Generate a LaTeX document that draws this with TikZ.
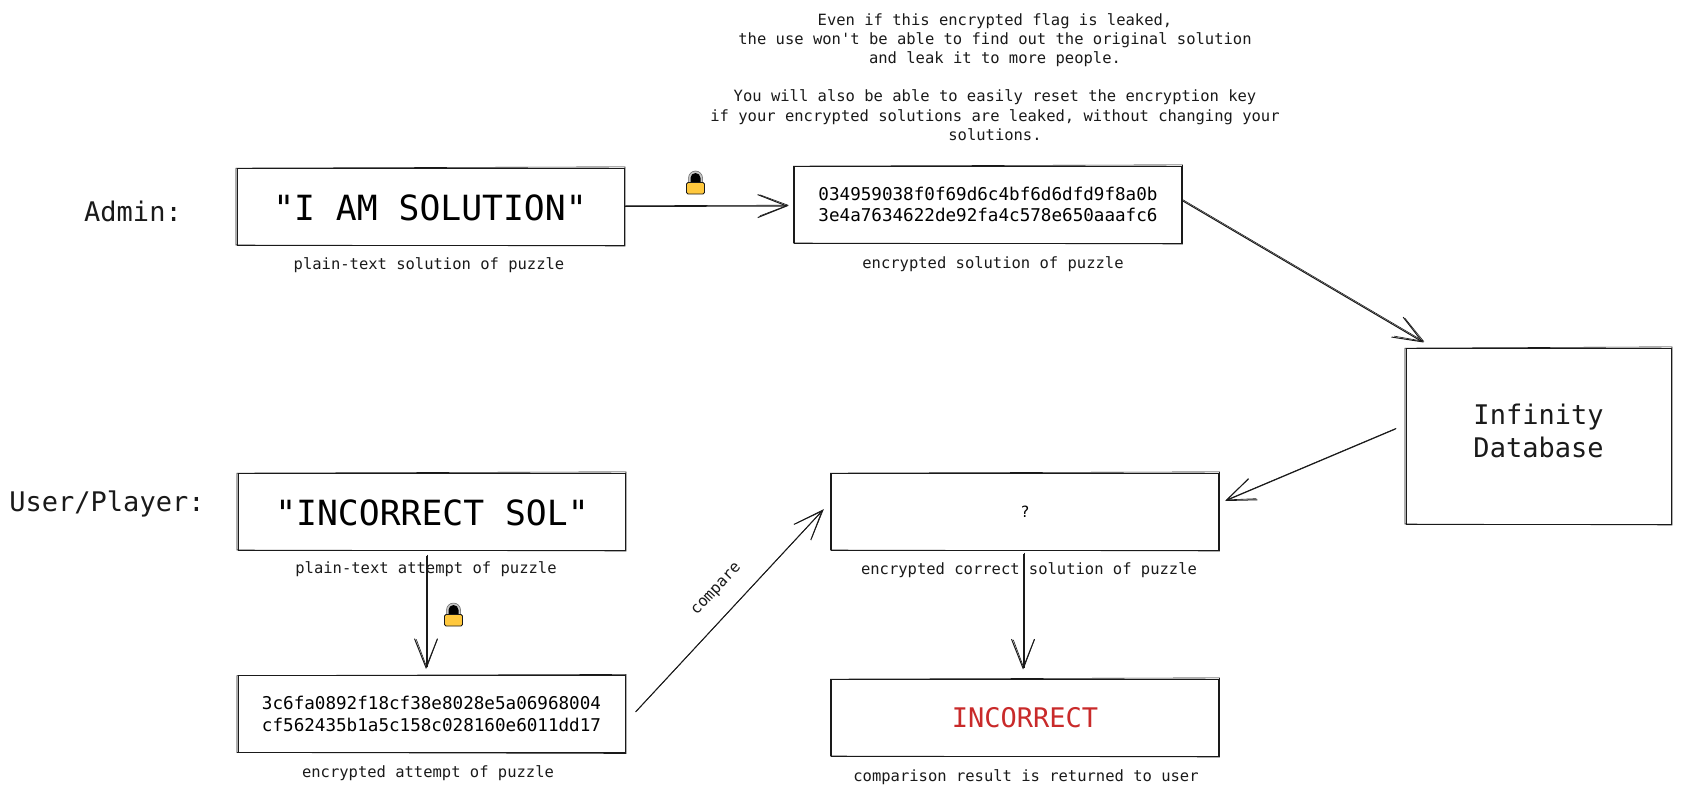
\documentclass[tikz,border=0pt]{standalone}
\usepackage{fontspec}
\newfontfamily\plainmono{DejaVu Sans Mono}
\setmainfont{DejaVu Sans Mono}
\usetikzlibrary{arrows.meta,calc}
\newcommand\fs[2]{\plainmono\fontsize{#1}{#2}\selectfont}
\definecolor{ink}{HTML}{1A1A1A}
\definecolor{lockgold}{HTML}{FFC83D}
\definecolor{wrongred}{HTML}{C92A2A}
\tikzset{
  x=1pt,y=-1pt,
  sbox/.style={draw=ink,line width=1pt,inner sep=0pt,align=center,fill=white},
  wbox/.style={sbox,minimum width=387pt,minimum height=77pt},
  captxt/.style={font=\fs{15.5}{19.1},text=ink,inner sep=0pt,align=center},
  headtxt/.style={font=\fs{27}{33},text=ink,inner sep=0pt,align=center},
  bigtxt/.style={font=\fs{34.7}{40}},
  medtxt/.style={font=\fs{27}{33.5},inner sep=0pt,align=center,text=ink},
  hashtxt/.style={font=\fs{17.6}{21.4}},
  sk/.style={draw=ink,line width=.6pt},
  arr/.style={draw=ink,line width=1pt,-{Straight Barb[length=29pt,width=23pt,line width=1pt]}},
  arrb/.style={draw=ink,line width=.6pt,-{Straight Barb[length=28pt,width=21pt,line width=.6pt]}},
  pics/padlock/.style={code={
    \draw[fill=gray!45,draw=ink!70,line width=.5pt] (-7,3) -- (-7,-5) arc[start angle=180,end angle=360,radius=7] -- (7,3) -- cycle;
    \fill[black] (-5,3) -- (-5,-5) arc[start angle=180,end angle=360,radius=5] -- (5,3) -- cycle;
    \draw[fill=lockgold,draw=ink,line width=.9pt,rounded corners=1.5pt] (-9,-.5) rectangle (9,11);
  }}
}
\newcommand\skbox[1]{\draw[sk] ($(#1.north west)+(-.5,.6)$) -- ($(#1.north east)+(.5,-.6)$) -- ($(#1.south east)+(.5,.5)$) -- ($(#1.south west)+(-.5,-.5)$) -- cycle;}
\newcommand\skarrow[2]{\draw[arr] #1 -- #2; \draw[arrb,transform canvas={shift={(.8pt,.8pt)}}] #1 -- #2;}
\begin{document}
\begin{tikzpicture}
\useasboundingbox[fill=white] (0,0) rectangle (1681,797);

\node[wbox] (b1) at (430.5,206.5) {};
\node[bigtxt,inner sep=0pt] (t1) at (430,208) {"I AM SOLUTION"};
\node[wbox,hashtxt] (b2) at (988,204.5) {034959038f0f69d6c4bf6d6dfd9f8a0b\\3e4a7634622de92fa4c578e650aaafc6};
\node[sbox,minimum width=265pt,minimum height=176pt] (db) at (1538.5,436) {};
\node[medtxt] (dbt) at (1538.5,431) {Infinity\\Database};
\node[wbox] (b3) at (431.5,511.5) {};
\node[bigtxt,inner sep=0pt] (t3) at (432,513) {"INCORRECT SOL"};
\node[wbox,font=\fs{15.5}{19.1}] (b4) at (1025,511.5) {?};
\node[wbox,hashtxt] (b5) at (431.5,714) {3c6fa0892f18cf38e8028e5a06968004\\cf562435b1a5c158c028160e6011dd17};
\node[wbox,font=\fs{27}{33},text=wrongred] (b6) at (1025,717.5) {INCORRECT};
\foreach \b in {b1,b2,db,b3,b4,b5,b6} {\skbox{\b}}

\node[headtxt] (admin) at (133,211) {Admin:};
\node[headtxt] (user) at (107,504) {User/Player:};

\node[captxt] (note) at (995,77) {Even if this encrypted flag is leaked,\\the use won't be able to find out the original solution\\and leak it to more people.\\[19.1pt]You will also be able to easily reset the encryption key\\if your encrypted solutions are leaked, without changing your\\solutions.};
\node[captxt] (c1) at (429,265) {plain-text solution of puzzle};
\node[captxt] (c2) at (993,264) {encrypted solution of puzzle};
\node[captxt] (c3) at (426,569.5) {plain-text attempt of puzzle};
\node[captxt] (c4) at (1029,570.5) {encrypted correct solution of puzzle};
\node[captxt] (c5) at (428,773.5) {encrypted attempt of puzzle};
\node[captxt] (c6) at (1026,777.5) {comparison result is returned to user};
\node[captxt,rotate=47] (cmp) at (717,590) {compare};

\skarrow{(b1.east)}{($(b2.west)+(-6,1.5)$)}
\skarrow{($(b2.east)+(0,-4)$)}{($(db.north west)+(18,-5)$)}
\skarrow{($(db.west)+(-10,-7)$)}{($(b4.east)+(6,-10.5)$)}
\skarrow{($(b3.south)+(-5.5,5)$)}{($(b5.north)+(-5.5,-6)$)}
\skarrow{($(b5.east)+(10,-2)$)}{($(b4.west)+(-8,-1.5)$)}
\skarrow{($(b4.south)+(-2,3)$)}{($(b6.north)+(-2,-9)$)}

\pic at (695.5,183) {padlock};
\pic at (453.5,615) {padlock};
\end{tikzpicture}
\end{document}
